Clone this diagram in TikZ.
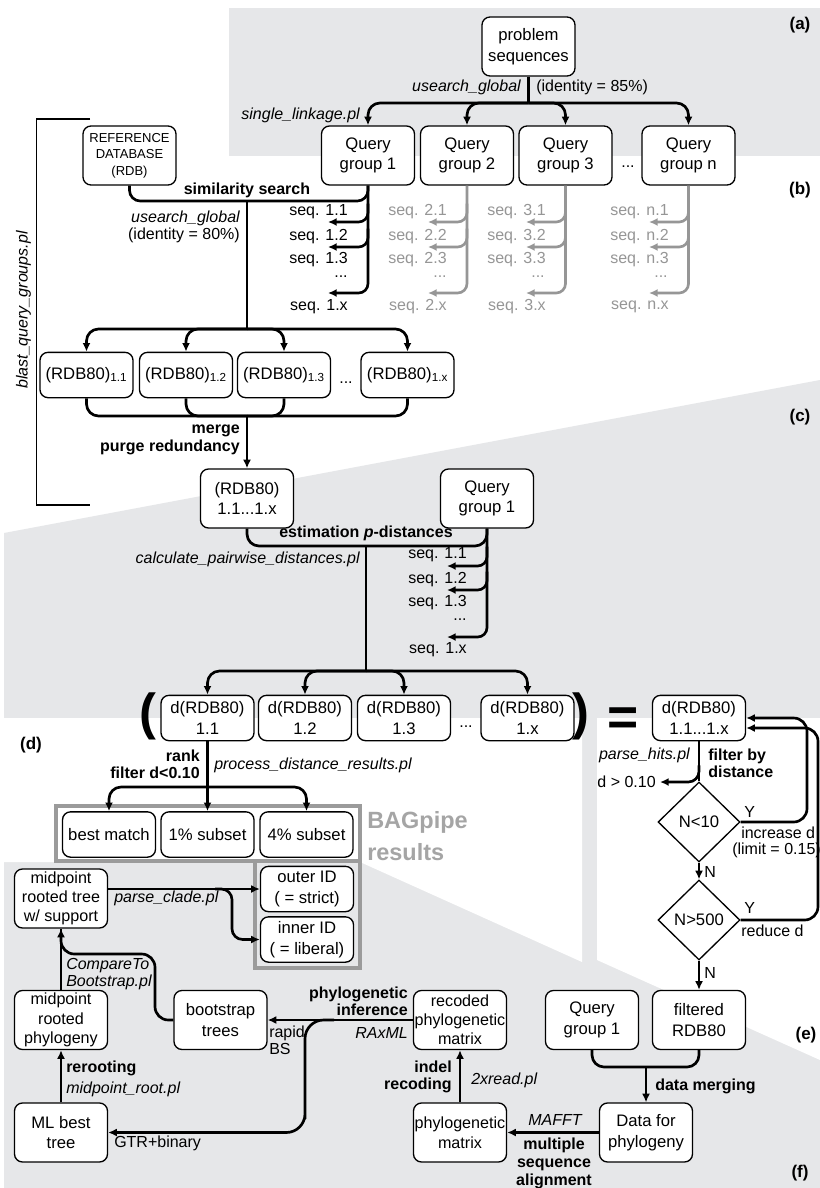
\documentclass[tikz,border=0pt]{standalone}
\usepackage{fontspec}
\setmainfont{Liberation Sans}
\usetikzlibrary{arrows.meta,shapes.geometric,calc}

\begin{document}
\begin{tikzpicture}[x=0.75pt,y=0.75pt,yscale=-1,xscale=1,
 box/.style={draw, line width=1pt, rounded corners=6pt, fill=white, align=center, minimum width=69.75pt, minimum height=44.25pt, inner sep=0pt, font=\fontsize{12.5}{15.5}\selectfont},
 lowbox/.style={box, minimum height=34pt},
 tallbox/.style={box, font=\fontsize{12.1}{14.4}\selectfont},
 dia/.style={draw, diamond, line width=1pt, fill=white, minimum width=61.5pt, minimum height=60pt, inner sep=0pt, font=\fontsize{12.5}{15}\selectfont},
 lbl/.style={inner sep=0.75pt, align=center, font=\fontsize{12}{13}\selectfont},
 glbl/.style={lbl, text={rgb, 255:red, 150; green, 150; blue, 150}},
 panel/.style={inner sep=0.75pt, font=\fontsize{12.75}{15}\selectfont\bfseries},
 conn/.style={line width=2pt, line join=round},
 arr/.style={conn, -{Latex[length=6.5pt,width=6pt]}},
 garr/.style={arr, draw={rgb, 255:red, 150; green, 150; blue, 150}},
 frame/.style={draw={rgb, 255:red, 155; green, 155; blue, 155}, line width=2.5pt},
 shade/.style={fill={rgb, 255:red, 230; green, 231; blue, 233}},
]
%Shape: Background
\fill[white] (0,0) rectangle (820,1188);
\path[shade] (229,8) rectangle (820,156);
\path[shade] (4,533) -- (820,380) -- (820,1188) -- (4,1188) -- cycle;
\fill[white] (0,718) -- (582,718) -- (582,962) -- (360,862) -- (0,862) -- cycle;
\fill[white] (597,718) -- (820,718) -- (820,1060) -- (597,960) -- cycle;
\useasboundingbox (0,0) rectangle (820,1188);

%Shape: Frames
\draw[frame] (56,806) rectangle (360,861);
\draw[frame] (255,861) rectangle (360,968);
%Straight Lines
\draw[line width=1pt] (90,119) -- (36.6,119) -- (36.6,505) -- (90,505);

%Rounded Rects (a) (b)
\node[box] (prob) at (528.5,46.5) {problem\\sequences};
\node[box] (q1) at (368,155.5) {Query\\group 1};
\node[box] (q2) at (467,155.5) {Query\\group 2};
\node[box] (q3) at (565.5,155.5) {Query\\group 3};
\node[box] (qn) at (688.5,155.5) {Query\\group n};
\node[box, font=\fontsize{9.75}{12.4}\selectfont] (rdb) at (129.5,155.5) {REFERENCE\\DATABASE\\(RDB)};
\node[lowbox] (r1) at (86.5,375) {(RDB80)\textsubscript{1.1}};
\node[lowbox] (r2) at (186,375) {(RDB80)\textsubscript{1.2}};
\node[lowbox] (r3) at (284,375) {(RDB80)\textsubscript{1.3}};
\node[lowbox] (rx) at (407.5,375) {(RDB80)\textsubscript{1.x}};
%Rounded Rects (c)
\node[box] (rall) at (247,498.5) {(RDB80)\\1.1...1.x};
\node[box] (qc) at (487,498.5) {Query\\group 1};
\node[lowbox] (d1) at (207.5,718) {d(RDB80)\\1.1};
\node[lowbox] (d2) at (305,718) {d(RDB80)\\1.2};
\node[lowbox] (d3) at (404,718) {d(RDB80)\\1.3};
\node[lowbox] (dx) at (527.5,718) {d(RDB80)\\1.x};
\node[lowbox] (dall) at (699,718) {d(RDB80)\\1.1...1.x};
%Rounded Rects (d)
\node[lowbox] (best) at (109,834.5) {best match};
\node[lowbox] (one) at (207.5,834.5) {1\% subset};
\node[lowbox] (four) at (306.5,834.5) {4\% subset};
\node[lowbox] (outer) at (307,889) {outer ID\\ ( = strict)};
\node[lowbox] (inner) at (307,939.5) {inner ID\\ ( = liberal)};
\node[tallbox] (mtree) at (61,898.5) {midpoint\\rooted tree\\w/ support};
\node[tallbox] (mphyl) at (61,1020) {midpoint\\rooted\\phylogeny};
\node[box] (boot) at (220.5,1020) {bootstrap\\trees};
\node[tallbox] (recod) at (460,1020) {recoded\\phylogenetic\\matrix};
\node[box] (ml) at (61,1132.5) {ML best\\tree};
\node[box, font=\fontsize{12.1}{15}\selectfont] (pmat) at (460,1132.5) {phylogenetic\\matrix};
%Rounded Rects (e)
\node[box] (qe) at (592,1020) {Query\\group 1};
\node[box] (filt) at (699,1020) {filtered\\RDB80};
\node[box] (data) at (646,1132.5) {Data for\\phylogeny};
\node[dia] (n10) at (699,822) {N<10};
\node[dia] (n500) at (699,920) {N>500};

% Text Node
\node[lbl, anchor=east] (ug85) at (522,87) {\itshape usearch\_global};
\node[lbl, anchor=west] (id85) at (535,87) {(identity = 85\%)};
\node[lbl, anchor=east] (slpl) at (361,115) {\itshape single\_linkage.pl};
\node[lbl] (dq) at (628,167) {...};
\node[lbl] (simsrch) at (247,190) {\bfseries similarity search};
\node[lbl, align=right, anchor=east] (ug80) at (241,227) {\itshape usearch\_global\\(identity = 80\%)};
\node[lbl, rotate=90] (bqg) at (23.5,310) {\itshape blast\_query\_groups.pl};
\node[lbl] (dr) at (346,383) {...};
\node[lbl, align=right, anchor=east] (merge) at (241,440) {\bfseries merge\\\bfseries purge redundancy};
\node[lbl] (estim) at (366,533) {\bfseries estimation \textit{p}-distances};
\node[lbl, anchor=east] (cpd) at (361,559) {\itshape calculate\_pairwise\_distances.pl};
\node[lbl] (dd) at (466,727) {...};
\node (lpar) at (147.5,716) {\fontsize{38}{38}\selectfont\bfseries (};
\node (rpar) at (581,716) {\fontsize{38}{38}\selectfont\bfseries )};
\node (eqs) at (623,722) {\fontsize{40}{40}\selectfont\bfseries =};
\node[lbl, align=right, anchor=east] (rank) at (201,764) {\bfseries rank\\\bfseries filter d<0.10};
\node[lbl, anchor=west] (pdr) at (213,765) {\itshape process\_distance\_results.pl};
\node[anchor=west, inner sep=0.75pt, align=left, font=\fontsize{17.6}{24.5}\selectfont\bfseries, text={rgb, 255:red, 165; green, 165; blue, 165}] (bag) at (366,836) {BAGpipe\\results};
\node[lbl, anchor=west] (pcl) at (113,898) {\itshape parse\_clade.pl};
\node[lbl, align=left, anchor=west] (ctb) at (65,974) {\itshape CompareTo\\\itshape Bootstrap.pl};
\node[lbl, align=right, anchor=east] (phinf) at (409,1001) {\bfseries phylogenetic\\\bfseries inference};
\node[lbl, anchor=east] (raxml) at (409,1033) {\itshape RAxML};
\node[lbl, align=left, anchor=west] (rbs) at (268,1040) {rapid\\BS};
\node[lbl, anchor=west] (rer) at (65,1068) {\bfseries rerooting};
\node[lbl, anchor=west] (mrpl) at (65,1089) {\itshape midpoint\_root.pl};
\node[lbl, anchor=west] (gtr) at (113,1143) {GTR+binary};
\node[lbl, align=right, anchor=east] (indel) at (453,1077) {\bfseries indel\\\bfseries recoding};
\node[lbl, anchor=west] (xread) at (470,1080) {\itshape 2xread.pl};
\node[lbl] (mafft) at (555,1120) {\itshape MAFFT};
\node[lbl, font=\fontsize{12}{13.5}\selectfont\bfseries] (msa) at (554,1163) {multiple\\sequence\\alignment};
\node[lbl, anchor=west] (dmg) at (654,1086) {\bfseries data merging};
\node[lbl, anchor=east] (phits) at (691,755) {\itshape parse\_hits.pl};
\node[lbl, align=left, anchor=west] (fbd) at (707,763) {\bfseries filter by\\\bfseries distance};
\node[lbl, anchor=east] (dgt) at (657,782) {d > 0.10};
\node[lbl, anchor=west] (y1) at (743,812) {Y};
\node[lbl, align=left, anchor=west] (incd) at (740,833) {increase d};
\node[lbl, anchor=west] (lim) at (731,850) {(limit = 0.15)};
\node[lbl, anchor=west] (no1) at (703,872) {N};
\node[lbl, anchor=west] (y2) at (743,908) {Y};
\node[lbl, anchor=west] (redd) at (740,931) {reduce d};
\node[lbl, anchor=west] (no2) at (703,973) {N};
\node[panel] (pa) at (800,25) {(a)};
\node[panel] (pb) at (800,190) {(b)};
\node[panel] (pc) at (800,417) {(c)};
\node[panel] (pd) at (31,745) {(d)};
\node[panel] (pe) at (806,1035) {(e)};
\node[panel] (pf) at (800,1173) {(f)};

% Text Node: sequences
\node[lbl, anchor=east] (s11) at (349,212) {seq. 1.1};
\node[lbl, anchor=east] (s12) at (349,237) {seq. 1.2};
\node[lbl, anchor=east] (s13) at (349,260) {seq. 1.3};
\node[lbl] (s1d) at (341,277) {...};
\node[lbl, anchor=east] (s1x) at (349,307) {seq. 1.x};
\node[glbl, anchor=east] (s21) at (448,212) {seq. 2.1};
\node[glbl, anchor=east] (s22) at (448,237) {seq. 2.2};
\node[glbl, anchor=east] (s23) at (448,260) {seq. 2.3};
\node[glbl] (s2d) at (440,277) {...};
\node[glbl, anchor=east] (s2x) at (448,307) {seq. 2.x};
\node[glbl, anchor=east] (s31) at (547,212) {seq. 3.1};
\node[glbl, anchor=east] (s32) at (547,237) {seq. 3.2};
\node[glbl, anchor=east] (s33) at (547,260) {seq. 3.3};
\node[glbl] (s3d) at (538,277) {...};
\node[glbl, anchor=east] (s3x) at (547,307) {seq. 3.x};
\node[glbl, anchor=east] (sn1) at (670,212) {seq. n.1};
\node[glbl, anchor=east] (sn2) at (670,237) {seq. n.2};
\node[glbl, anchor=east] (sn3) at (670,260) {seq. n.3};
\node[glbl] (snd) at (661,277) {...};
\node[glbl, anchor=east] (snx) at (670,307) {seq. n.x};
\node[lbl, anchor=east] (c11) at (468,555) {seq. 1.1};
\node[lbl, anchor=east] (c12) at (468,580) {seq. 1.2};
\node[lbl, anchor=east] (c13) at (468,603) {seq. 1.3};
\node[lbl] (c1d) at (460,620) {...};
\node[lbl, anchor=east] (c1x) at (468,650) {seq. 1.x};

%Coordinates
\coordinate (ja) at (528.5,103);
\coordinate (ss) at (247,201);
\coordinate (jr) at (247,329);
\coordinate (jm) at (247,416);
\coordinate (je) at (366,546);
\coordinate (jd) at (366,671);
\coordinate (jb) at (207.5,787);
\coordinate (t11) at (328,222); \coordinate (t12) at (328,247); \coordinate (t1x) at (328,293);
\coordinate (t21) at (428,222); \coordinate (t22) at (428,247); \coordinate (t2x) at (428,293);
\coordinate (t31) at (526,222); \coordinate (t32) at (526,247); \coordinate (t3x) at (526,293);
\coordinate (tn1) at (649,222); \coordinate (tn2) at (649,247); \coordinate (tnx) at (649,293);
\coordinate (u11) at (447,566); \coordinate (u12) at (447,590); \coordinate (u1x) at (447,637);
\coordinate (dgo) at (660,782);
\coordinate (lp1) at (807,770);
\coordinate (lp2) at (818,800);
\coordinate (jdm) at (646,1067);
\coordinate (jp) at (334,1020);
\coordinate (jq) at (305,1100);
\coordinate (lc) at (155,954);
\coordinate (jo) at (215,889);
\coordinate (jo2) at (232,915);

%Straight Lines (a)
\draw[conn] (prob) -- (ja);
\draw[arr, rounded corners=9pt] (ja) -| (q1);
\draw[arr, rounded corners=9pt] (ja) -| (q2);
\draw[arr, rounded corners=9pt] (ja) -| (q3);
\draw[arr, rounded corners=9pt] (ja) -| (qn);
%Straight Lines (b)
\draw[arr, rounded corners=7pt] (q1.south) |- (t1x);
\draw[arr, rounded corners=7pt] ($(q1.south)+(0,18)$) |- (t11);
\draw[arr, rounded corners=7pt] ($(q1.south)+(0,43)$) |- (t12);
\draw[garr, rounded corners=7pt] (q2.south) |- (t2x);
\draw[garr, rounded corners=7pt] ($(q2.south)+(0,18)$) |- (t21);
\draw[garr, rounded corners=7pt] ($(q2.south)+(0,43)$) |- (t22);
\draw[garr, rounded corners=7pt] (q3.south) |- (t3x);
\draw[garr, rounded corners=7pt] ($(q3.south)+(0,18)$) |- (t31);
\draw[garr, rounded corners=7pt] ($(q3.south)+(0,43)$) |- (t32);
\draw[garr, rounded corners=7pt] (qn.south) |- (tnx);
\draw[garr, rounded corners=7pt] ($(qn.south)+(0,18)$) |- (tn1);
\draw[garr, rounded corners=7pt] ($(qn.south)+(0,43)$) |- (tn2);
\draw[conn, rounded corners=8pt] (rdb.south) |- (ss) -| (q1.south);
\draw[conn] (ss) -- (jr);
\draw[arr, rounded corners=9pt] (jr) -| (r1);
\draw[arr, rounded corners=9pt] (jr) -| (r2);
\draw[arr, rounded corners=9pt] (jr) -| (r3);
\draw[arr, rounded corners=9pt] (jr) -| (rx);
\draw[conn, rounded corners=9pt] (r1.south) |- (jm);
\draw[conn, rounded corners=9pt] (r2.south) |- (jm);
\draw[conn, rounded corners=9pt] (r3.south) |- (jm);
\draw[conn, rounded corners=9pt] (rx.south) |- (jm);
\draw[arr] (jm) -- (rall);
%Straight Lines (c)
\draw[conn, rounded corners=9pt] (rall.south) |- (je) -| (qc.south);
\draw[arr, rounded corners=7pt] (qc.south) |- (u1x);
\draw[arr, rounded corners=7pt] ($(qc.south)+(0,18)$) |- (u11);
\draw[arr, rounded corners=7pt] ($(qc.south)+(0,43)$) |- (u12);
\draw[conn] (je) -- (jd);
\draw[arr, rounded corners=9pt] (jd) -| (d1);
\draw[arr, rounded corners=9pt] (jd) -| (d2);
\draw[arr, rounded corners=9pt] (jd) -| (d3);
\draw[arr, rounded corners=9pt] (jd) -| (dx);
%Straight Lines (d)
\draw[conn] (d1) -- (jb);
\draw[arr, rounded corners=9pt] (jb) -| (best);
\draw[arr] (jb) -- (one);
\draw[arr, rounded corners=9pt] (jb) -| (four);
\draw[arr] (mtree.east |- outer.west) -- (outer.west);
\draw[arr, rounded corners=8pt] (jo) -| (jo2) |- (inner.west);
\draw[conn] (mphyl) -- (mtree);
\draw[arr, rounded corners=10pt] (boot.west) -| (lc) -| (mtree.south);
\draw[arr] (ml) -- (mphyl);
\draw[arr] (recod) -- (boot);
\draw[arr, rounded corners=14pt] (jp) -| (jq) |- (ml.east);
\draw[arr] (pmat) -- (recod);
\draw[arr] (data) -- (pmat);
%Straight Lines (e)
\draw[conn] (dall) -- (n10);
\draw[arr, rounded corners=8pt] ($(dall.south)+(0,24)$) |- (dgo);
\draw[arr] (n10) -- (n500);
\draw[arr] (n500) -- (filt);
\draw[arr, rounded corners=10pt] (n10.east) -| (lp1) |- (dall.east);
\draw[arr, rounded corners=10pt] (n500.east) -| (lp2) |- ([yshift=7.5pt]dall.east);
\draw[conn, rounded corners=9pt] (qe.south) |- (jdm) -| (filt.south);
\draw[arr] (jdm) -- (data);

\end{tikzpicture}
\end{document}
